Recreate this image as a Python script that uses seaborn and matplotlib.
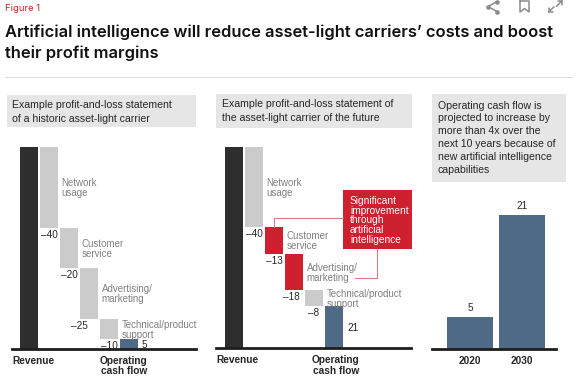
"""Waterfall comparison of a historic and a future asset-light carrier P&L."""

import matplotlib.pyplot as plt
import numpy as np
import seaborn as sns
from matplotlib.patches import Rectangle

# ---- data -----------------------------------------------------------------
step_labels = [
    "Revenue",
    "Network\nusage",
    "Customer\nservice",
    "Advertising/\nmarketing",
    "Technical/product\nsupport",
    "Operating\ncash flow",
]
historic_values = [100, -40, -20, -25, -10, 5]
future_values = [100, -40, -13, -18, -8, 21]
future_ai_steps = [False, False, True, True, False, False]
years = ["2020", "2030"]
cash_flow_by_year = [5, 21]

# ---- style ----------------------------------------------------------------
W, H = 577, 389
DARK = "#2e2e2e"
GREY_BAR = "#cbcbcb"
RED = "#cf2030"
BLUE = "#4e6a86"
BOX = "#e6e6e6"
LABEL_GREY = "#808080"
TEXT = "#262626"
PX = 0.72  # points per pixel at 100 dpi

sns.set_theme(style="white")
plt.rcParams["font.family"] = ["Liberation Sans", "DejaVu Sans"]


def px_axes(fig, left, top, right, bottom):
    """Add an axes from pixel bounds measured from the top-left corner."""
    return fig.add_axes([left / W, 1 - bottom / H, (right - left) / W, (bottom - top) / H])


def stacked(ax, xy, text, dx=0.0, dy=0.0, pitch=10.0, **kw):
    """Write multi-line text one line at a time with an even pixel pitch.

    dx/dy are pixel offsets of the block centre from xy (dy grows downward).
    """
    lines = text.split("\n")
    n = len(lines)
    for k, line in enumerate(lines):
        off_y = -(dy + (k - (n - 1) / 2) * pitch) * PX
        ax.annotate(line, xy, xytext=(dx * PX, off_y), textcoords="offset points",
                    va="center_baseline", **kw)


def draw_waterfall(ax, values, colors, value_shift, total_dx):
    bottoms, heights = [], []
    running = 0
    last = len(values) - 1
    for i, v in enumerate(values):
        if i == 0 or i == last:
            bottoms.append(0)
            heights.append(v)
            running = v
        else:
            running += v
            bottoms.append(running)
            heights.append(-v)
    x = np.arange(len(values))
    ax.bar(x, heights, bottom=bottoms, width=0.9, color=colors, linewidth=0, zorder=2)

    for i, v in enumerate(values):
        if 0 < i < last:
            stacked(ax, (i + 0.45, bottoms[i] + heights[i] / 2), step_labels[i], dx=3.5,
                    ha="left", fontsize=7, color=LABEL_GREY)
            stacked(ax, (i, bottoms[i]), f"\u2013{-v}", dx=value_shift.get(i, 0), dy=6,
                    ha="center", fontsize=7.2, color=TEXT)
    stacked(ax, (last + 0.45, heights[last] / 2), str(values[last]), dx=4,
            ha="left", fontsize=7.2, color=TEXT)

    stacked(ax, (0, 0), step_labels[0], dy=11, xycoords="axes fraction",
            ha="left", fontsize=7.3, fontweight="bold", color=TEXT)
    stacked(ax, (last, 0), step_labels[last], dx=total_dx, dy=16, pitch=10.5,
            ha="center", fontsize=7.3, fontweight="bold", color=TEXT)

    ax.set_ylim(0, 100)
    ax.set_xticks([])
    ax.set_yticks([])
    for side in ("top", "left", "right"):
        ax.spines[side].set_visible(False)
    ax.spines["bottom"].set_color("#1e1e1e")
    ax.spines["bottom"].set_linewidth(2)
    ax.patch.set_alpha(0)


fig = plt.figure(figsize=(W / 100, H / 100), dpi=100)

# panel 1: historic carrier
ax1 = px_axes(fig, 12, 146.7, 196, 349)
colors1 = [DARK] + [GREY_BAR] * 4 + [BLUE]
draw_waterfall(ax1, historic_values, colors1, {3: -10}, total_dx=-5)
ax1.set_xlim(-0.85, 8.35)

# panel 2: future carrier
ax2 = px_axes(fig, 216, 146.7, 411, 348.3)
colors2 = [DARK] + [RED if ai else GREY_BAR for ai in future_ai_steps[1:-1]] + [BLUE]
draw_waterfall(ax2, future_values, colors2, {3: -3}, total_dx=2)
ax2.set_xlim(-0.9, 8.85)

# panel 3: operating cash flow by year
ax3 = px_axes(fig, 432, 215, 556, 349.3)
sns.barplot(x=years, y=cash_flow_by_year, color=BLUE, width=0.88, saturation=1,
            linewidth=0, ax=ax3)
ax3.bar_label(ax3.containers[0], padding=3, fontsize=7.2, color=TEXT)
ax3.set_xlim(-0.73, 1.65)
ax3.set_ylim(0, 21)
ax3.set_yticks([])
ax3.tick_params(axis="x", length=0, pad=5)
for lab in ax3.get_xticklabels():
    lab.set_fontweight("bold")
    lab.set_fontsize(7.3)
    lab.set_color(TEXT)
for side in ("top", "left", "right"):
    ax3.spines[side].set_visible(False)
ax3.spines["bottom"].set_color("#1e1e1e")
ax3.spines["bottom"].set_linewidth(2)
ax3.patch.set_alpha(0)

# ---- overlay in pixel coordinates: headings, boxes, callout ---------------
ov = fig.add_axes([0, 0, 1, 1], zorder=5)
ov.set_xlim(0, W)
ov.set_ylim(H, 0)
ov.axis("off")
ov.patch.set_alpha(0)

title_font = ["Inter", "DejaVu Sans"]
ov.text(5, 8.5, "Figure 1", color="#d0201f", fontsize=6.8, va="center", ha="left",
        family=title_font)
ov.text(5, 32, "Artificial intelligence will reduce asset-light carriers\u2019 costs and boost",
        fontsize=11.9, fontweight="semibold", va="center", ha="left", color="#111111",
        family=title_font)
ov.text(5, 53, "their profit margins", fontsize=11.9, fontweight="semibold",
        va="center", ha="left", color="#111111", family=title_font)
ov.plot([5, 572], [77, 77], color="#dddddd", lw=0.8)

# top-right icons: share, bookmark, expand
icon = "#8c8c8c"
ov.plot([497, 488, 497], [1.5, 6.5, 11.5], color=icon, lw=1.1, marker="o", ms=2.3)
ov.plot([520, 520, 524.5, 529, 529, 520], [1, 12, 8.5, 12, 1, 1], color=icon, lw=1.1)
ov.plot([556.5, 562], [6.2, 0.8], color=icon, lw=1.1)
ov.plot([558, 562, 562], [0.8, 0.8, 4.8], color=icon, lw=1.1)
ov.plot([554, 548.5], [6.8, 12.2], color=icon, lw=1.1)
ov.plot([548.5, 548.5, 552.5], [8.2, 12.2, 12.2], color=icon, lw=1.1)

headers = [
    (7, 95, 196, 127, 103.5, 14.4, ["Example profit-and-loss statement",
                                    "of a historic asset-light carrier"]),
    (216, 94, 412, 128, 103.3, 14.0, ["Example profit-and-loss statement of",
                                      "the asset-light carrier of the future"]),
    (432, 94, 566, 182, 104.5, 12.9, ["Operating cash flow is", "projected to increase by",
                                      "more than 4x over the", "next 10 years because of",
                                      "new artificial intelligence", "capabilities"]),
]
for x0, y0, x1, y1, first, pitch, lines in headers:
    ov.add_patch(Rectangle((x0, y0), x1 - x0, y1 - y0, color=BOX, lw=0))
    for k, line in enumerate(lines):
        ov.text(x0 + 5.5, first + k * pitch, line, ha="left", va="center_baseline",
                fontsize=7.6, color=TEXT)

# callout box and connectors
ov.add_patch(Rectangle((343.3, 190), 68.5, 58.5, color=RED, lw=0))
for k, line in enumerate(["Significant", "improvement", "through", "artificial", "intelligence"]):
    ov.text(350, 200 + k * 9.7, line, ha="left", va="center_baseline", fontsize=7.3,
            color="white")
ov.plot([343.3, 273.5, 273.5], [217.7, 217.7, 226.7], color="#e07a80", lw=0.8)
ov.plot([376.7, 376.7, 355], [248.5, 278.3, 278.3], color="#e07a80", lw=0.8)

fig.savefig("out.png", dpi=100)
